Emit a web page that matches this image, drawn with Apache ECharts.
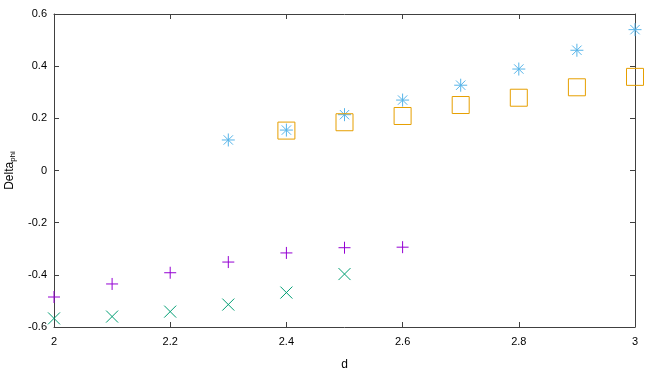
<!DOCTYPE html>
<html>
<head>
<meta charset="utf-8">
<script src="https://cdn.jsdelivr.net/npm/echarts@6/dist/echarts.min.js"></script>
<style>html,body{margin:0;padding:0;background:#fff}#c{width:654px;height:374px}</style>
</head>
<body>
<div id="c"></div>
<script>
// Data
const xPlus = [2.0, 2.1, 2.2, 2.3, 2.4, 2.5, 2.6];
const yPlus = [-0.485, -0.435, -0.392, -0.351, -0.316, -0.296, -0.294];
const xCross = [2.0, 2.1, 2.2, 2.3, 2.4, 2.5];
const yCross = [-0.567, -0.560, -0.541, -0.514, -0.468, -0.397];
const xStar = [2.3, 2.4, 2.5, 2.6, 2.7, 2.8, 2.9, 3.0];
const yStar = [0.117, 0.155, 0.214, 0.270, 0.327, 0.389, 0.461, 0.540];
const xSquare = [2.4, 2.5, 2.6, 2.7, 2.8, 2.9, 3.0];
const ySquare = [0.153, 0.185, 0.209, 0.251, 0.279, 0.319, 0.359];
const xTicks = [2, 2.2, 2.4, 2.6, 2.8, 3];
const yTicks = [-0.6, -0.4, -0.2, 0, 0.2, 0.4, 0.6];

const pair = (xs, ys) => xs.map((x, i) => [x, ys[i]]);
const FONT = 'Liberation Sans';
const axisLine = {show: true, onZero: false, lineStyle: {color: '#404040', width: 1}};
const tick = {show: true, inside: true, length: 5, lineStyle: {color: '#404040'}};

// marker glyphs as segment lists in unit half-size coordinates
const glyphs = {
  plus: [[-1, 0, 1, 0], [0, -1, 0, 1]],
  cross: [[-1, -1, 1, 1], [-1, 1, 1, -1]],
  star: [[-1, 0, 1, 0], [0, -1, 0, 1], [-0.72, -0.72, 0.72, 0.72], [-0.72, 0.72, 0.72, -0.72]],
  square: [[-1, -1, 1, -1], [1, -1, 1, 1], [1, 1, -1, 1], [-1, 1, -1, -1]]
};

function markerSeries(name, glyph, color, half, data) {
  return {
    type: 'custom', name: name, data: data, clip: false,
    encode: {x: 0, y: 1},
    renderItem: function (params, api) {
      const p = api.coord([api.value(0), api.value(1)]);
      const segs = glyphs[glyph];
      return {
        type: 'group',
        children: segs.map(s => ({
          type: 'line',
          shape: {x1: p[0] + s[0] * half, y1: p[1] + s[1] * half, x2: p[0] + s[2] * half, y2: p[1] + s[3] * half},
          style: {stroke: color, lineWidth: 1, fill: null}
        }))
      };
    }
  };
}

const chart = echarts.init(document.getElementById('c'), null, {renderer: 'canvas'});
chart.setOption({
  animation: false,
  backgroundColor: '#fff',
  textStyle: {fontFamily: FONT},
  grid: {left: 54, right: 19, top: 14, bottom: 47, outerBoundsMode: 'none', containLabel: false},
  xAxis: [{
    type: 'value', min: 2, max: 3, interval: 0.2, position: 'bottom',
    axisLine: axisLine, axisTick: tick, splitLine: {show: false},
    axisLabel: {color: '#000', fontSize: 11, fontFamily: FONT, margin: 9,
      formatter: v => String(Math.round(v * 10) / 10)},
    name: 'd', nameLocation: 'middle', nameGap: 32,
    nameTextStyle: {color: '#000', fontSize: 12, fontFamily: FONT}
  }, {
    type: 'value', min: 2, max: 3, interval: 0.2, position: 'top',
    axisLine: axisLine, axisTick: tick, axisLabel: {show: false}, splitLine: {show: false}
  }],
  yAxis: [{
    type: 'value', min: -0.6, max: 0.6, interval: 0.2, position: 'left',
    axisLine: axisLine, axisTick: tick, splitLine: {show: false},
    axisLabel: {color: '#000', fontSize: 11, fontFamily: FONT, margin: 7,
      formatter: v => String(Math.round(v * 10) / 10)},
    name: 'Delta{sub|phi}', nameLocation: 'middle', nameGap: 37, nameRotate: 90,
    nameTextStyle: {color: '#000', fontSize: 12, fontFamily: FONT,
      rich: {sub: {fontSize: 8, fontFamily: FONT, color: '#000', padding: [6, 0, 0, 0]}}}
  }, {
    type: 'value', min: -0.6, max: 0.6, interval: 0.2, position: 'right',
    axisLine: axisLine, axisTick: tick, axisLabel: {show: false}, splitLine: {show: false}
  }],
  series: [
    markerSeries('plus', 'plus', '#9400d3', 6, pair(xPlus, yPlus)),
    markerSeries('cross', 'cross', '#009e73', 6, pair(xCross, yCross)),
    markerSeries('star', 'star', '#56b4e9', 6.5, pair(xStar, yStar)),
    markerSeries('square', 'square', '#e69f00', 8.5, pair(xSquare, ySquare))
  ]
});
</script>
</body>
</html>
